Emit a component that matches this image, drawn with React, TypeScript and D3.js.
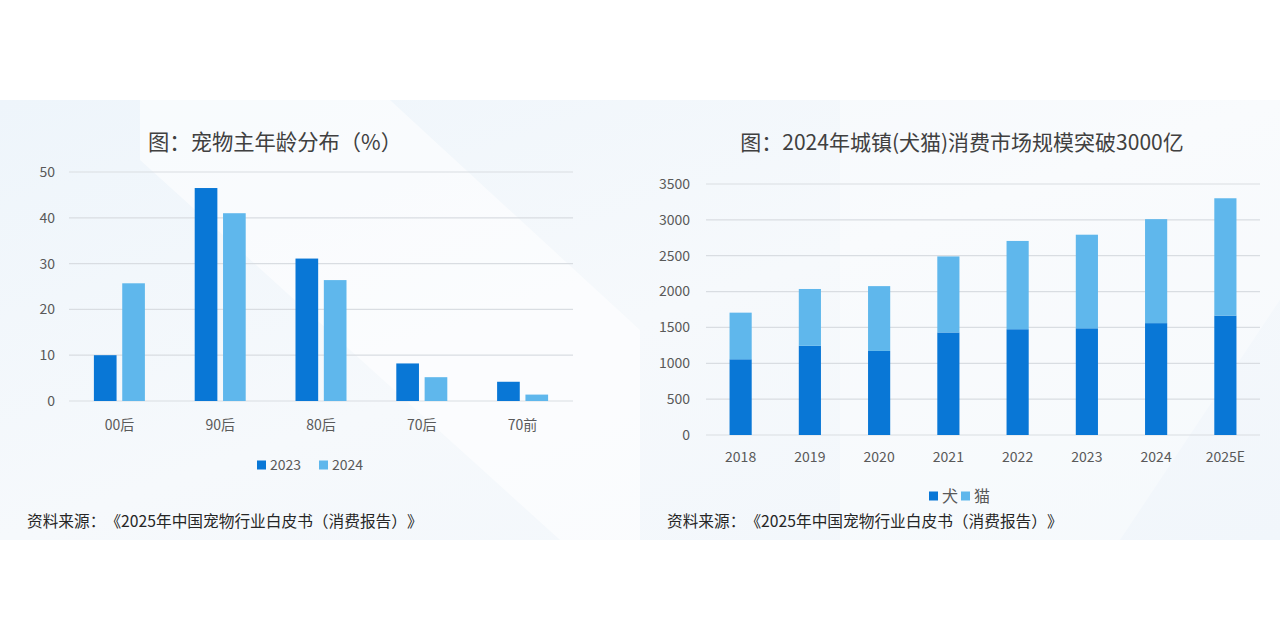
import React from "react";
import * as d3 from "d3";

// 宠物主年龄分布
const ageGroups = ["00后", "90后", "80后", "70后", "70前"];
const ageYears = ["2023", "2024"];
const age2023 = [10, 46.5, 31.1, 8.2, 4.2];
const age2024 = [25.7, 41.0, 26.4, 5.2, 1.4];
const ageTicks = [0, 10, 20, 30, 40, 50];

// 城镇犬猫消费市场规模（亿元）
const marketYears = ["2018", "2019", "2020", "2021", "2022", "2023", "2024", "2025E"];
const marketSeries = ["犬", "猫"];
const dogValues = [1056, 1244, 1172, 1430, 1475, 1488, 1560, 1665];
const catValues = [650, 792, 904, 1060, 1231, 1305, 1450, 1636];
const marketTicks = [0, 500, 1000, 1500, 2000, 2500, 3000, 3500];

const sourceText = "资料来源：《2025年中国宠物行业白皮书（消费报告）》";

const DARK = "#0977d6";
const LIGHT = "#5fb7ec";
const GRID = "#d9dde2";
const LABEL = "#595959";
const FONT = "'Noto Sans CJK SC', 'Noto Sans', sans-serif";

const AgeChart = () => {
  const x = d3.scaleBand().domain(ageGroups).range([69, 573]);
  const inner = d3.scaleBand().domain(ageYears).range([0, 51]).paddingInner(0.2);
  const y = d3.scaleLinear().domain([0, 50]).range([401, 172]);
  const values = [age2023, age2024];
  const colors = [DARK, LIGHT];

  return (
    <g>
      <text x={275} y={150} textAnchor="middle" fontSize={21.3} fill="#404040">
        图：宠物主年龄分布（%）
      </text>
      {ageTicks.map((t) => (
        <g key={t}>
          <line x1={69} x2={573} y1={y(t)} y2={y(t)} stroke={GRID} strokeWidth={1.2} />
          <text x={55} y={y(t)} dy="0.35em" textAnchor="end" fontSize={14} fill={LABEL}>
            {t}
          </text>
        </g>
      ))}
      {ageGroups.map((g, i) => {
        const cx = x(g)! + x.bandwidth() / 2;
        return (
          <g key={g}>
            {ageYears.map((s, j) => (
              <rect
                key={s}
                x={cx - 25.5 + inner(s)!}
                y={y(values[j][i])}
                width={inner.bandwidth()}
                height={y(0) - y(values[j][i])}
                fill={colors[j]}
              />
            ))}
            <text x={cx} y={425} dy="0.35em" textAnchor="middle" fontSize={14} fill={LABEL}>
              {g}
            </text>
          </g>
        );
      })}
      {ageYears.map((s, j) => (
        <g key={s} transform={`translate(${257 + j * 62},465)`}>
          <rect x={0} y={-4.5} width={9} height={9} fill={colors[j]} />
          <text x={13} y={0} dy="0.35em" fontSize={14} fill={LABEL}>
            {s}
          </text>
        </g>
      ))}
    </g>
  );
};

const MarketChart = () => {
  const x = d3.scaleBand().domain(marketYears).range([706, 1260]).paddingInner(0.68).paddingOuter(0.34);
  const y = d3.scaleLinear().domain([0, 3500]).range([435, 184]);
  const stacked = d3.stack<number>().keys(["0", "1"]).value((i, k) => (k === "0" ? dogValues[i] : catValues[i]))(
    marketYears.map((_, i) => i)
  );
  const colors = [DARK, LIGHT];

  return (
    <g>
      <text x={962} y={150} textAnchor="middle" fontSize={21} fill="#404040">
        图：2024年城镇(犬猫)消费市场规模突破3000亿
      </text>
      {marketTicks.map((t) => (
        <g key={t}>
          <line x1={706} x2={1260} y1={y(t)} y2={y(t)} stroke={GRID} strokeWidth={1.2} />
          <text x={690} y={y(t)} dy="0.35em" textAnchor="end" fontSize={14} fill={LABEL}>
            {t}
          </text>
        </g>
      ))}
      {stacked.map((layer, j) =>
        layer.map((d, i) => (
          <rect
            key={`${j}-${i}`}
            x={x(marketYears[i])}
            y={y(d[1])}
            width={x.bandwidth()}
            height={y(d[0]) - y(d[1])}
            fill={colors[j]}
          />
        ))
      )}
      {marketYears.map((yr) => (
        <text
          key={yr}
          x={x(yr)! + x.bandwidth() / 2}
          y={457}
          dy="0.35em"
          textAnchor="middle"
          fontSize={14}
          fill={LABEL}
        >
          {yr}
        </text>
      ))}
      {marketSeries.map((s, j) => (
        <g key={s} transform={`translate(${929 + j * 32},496)`}>
          <rect x={0} y={-4.5} width={9} height={9} fill={colors[j]} />
          <text x={13} y={0} dy="0.35em" fontSize={16} fill={LABEL}>
            {s}
          </text>
        </g>
      ))}
    </g>
  );
};

export default function App() {
  return (
    <svg
      width={1280}
      height={640}
      style={{
        position: "absolute",
        left: 0,
        top: 0,
        fontFamily: FONT,
        textSpacingTrim: "space-all",
      } as React.CSSProperties}
    >
      <defs>
        <linearGradient id="panel" x1="0" y1="0" x2="1" y2="1">
          <stop offset="0" stopColor="#eef5fb" />
          <stop offset="0.5" stopColor="#f6f9fc" />
          <stop offset="1" stopColor="#f1f6fb" />
        </linearGradient>
      </defs>
      <rect width={1280} height={640} fill="#ffffff" />
      <rect x={0} y={100} width={1280} height={440} fill="url(#panel)" />
      <polygon points="140,100 390,100 640,330 640,540 560,540 140,160" fill="#ffffff" opacity={0.55} />
      <polygon points="840,100 1280,100 1280,300 1120,540 840,540" fill="#ffffff" opacity={0.35} />
      <AgeChart />
      <MarketChart />
      <text x={27} y={522} dy="0.35em" fontSize={15.7} fill="#262626">
        {sourceText}
      </text>
      <text x={667} y={522} dy="0.35em" fontSize={15.7} fill="#262626">
        {sourceText}
      </text>
    </svg>
  );
}
